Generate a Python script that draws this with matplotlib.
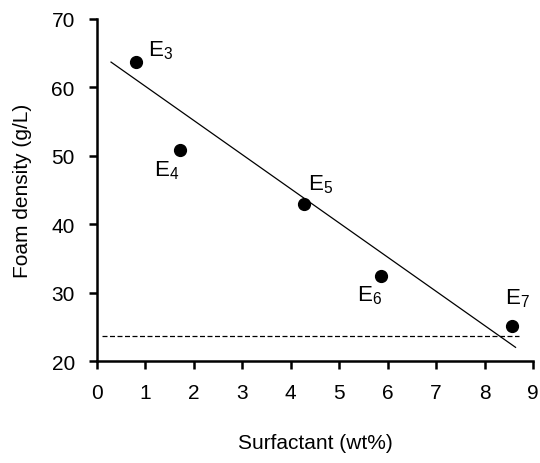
import matplotlib.pyplot as plt

plt.rcParams['font.family'] = 'Liberation Sans'
plt.rcParams['mathtext.fontset'] = 'custom'
plt.rcParams['mathtext.rm'] = 'Liberation Sans'
plt.rcParams['mathtext.it'] = 'Liberation Sans'

labels = ['E$_3$', 'E$_4$', 'E$_5$', 'E$_6$', 'E$_7$']
surfactant = [0.8, 1.71, 4.28, 5.87, 8.57]
density = [63.7, 50.9, 43.0, 32.5, 25.1]

fit_x = [0.29, 8.64]
fit_y = [63.7, 22.0]

ref_x = [0.1, 8.72]
ref_y = 23.6

# label offsets in pixels relative to each point
offsets = [(12, 12), (-26, -20), (4, 20), (-24, -19), (-7, 28)]

fig = plt.figure(figsize=(5.4, 4.64), dpi=100)
ax = fig.add_axes([0.1796, 0.2198, 0.8074, 0.7371])

ax.plot(fit_x, fit_y, color='black', lw=0.9)
ax.plot(ref_x, [ref_y, ref_y], color='black', lw=0.9, ls=(0, (4, 2)))
ax.plot(surfactant, density, 'o', color='black', ms=8.5)

for lab, x, y, off in zip(labels, surfactant, density, offsets):
    ax.annotate(lab, (x, y), xytext=off, textcoords='offset pixels',
                fontsize=16, ha='left', va='center')

ax.set_xlim(0, 9)
ax.set_ylim(20, 70)
ax.set_xticks(range(0, 10))
ax.set_yticks(range(20, 71, 10))

for s in ['top', 'right']:
    ax.spines[s].set_visible(False)
for s in ['left', 'bottom']:
    ax.spines[s].set_linewidth(1.8)
ax.tick_params(direction='out', length=6, width=1.8, labelsize=15, pad=10)

ax.set_xlabel('Surfactant (wt%)', fontsize=15, labelpad=22)
ax.set_ylabel('Foam density (g/L)', fontsize=15, labelpad=14)

fig.savefig('out.png', dpi=100)
